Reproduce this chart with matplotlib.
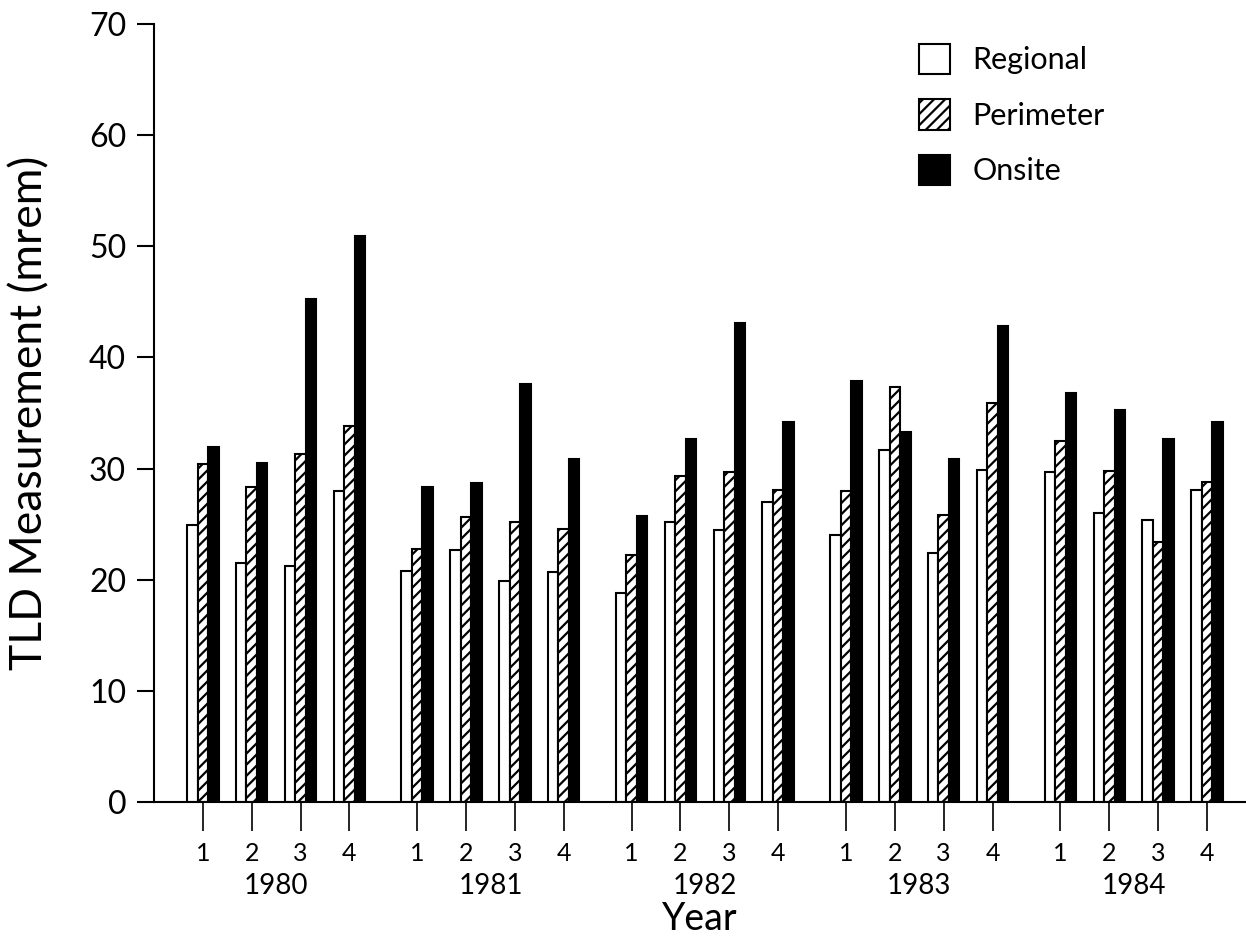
import matplotlib
matplotlib.use("Agg")
import matplotlib.pyplot as plt
from matplotlib.patches import Patch
import numpy as np

years = ["1980", "1981", "1982", "1983", "1984"]
quarters = ["1", "2", "3", "4"]

# TLD values (mrem), one entry per quarter, 1980 Q1 ... 1984 Q4
regional = [24.9, 21.5, 21.2, 28.0,
            20.8, 22.7, 19.9, 20.7,
            18.8, 25.2, 24.5, 27.0,
            24.0, 31.7, 22.4, 29.9,
            29.7, 26.0, 25.4, 28.1]
perimeter = [30.4, 28.3, 31.3, 33.8,
             22.8, 25.6, 25.2, 24.6,
             22.2, 29.3, 29.7, 28.1,
             28.0, 37.3, 25.8, 35.9,
             32.5, 29.8, 23.4, 28.8]
onsite = [31.9, 30.5, 45.3, 50.9,
          28.3, 28.7, 37.6, 30.9,
          25.7, 32.7, 43.1, 34.2,
          37.9, 33.3, 30.9, 42.8,
          36.8, 35.3, 32.7, 34.2]

plt.rcParams['font.family'] = ['Lato', 'DejaVu Sans']
plt.rcParams['hatch.linewidth'] = 1.6

fig = plt.figure(figsize=(12.46, 9.4), dpi=100)
ax = fig.add_axes([154 / 1246, 1 - 802 / 940, 1 - 154 / 1246, (802 - 24) / 940])

# quarter positions, with a wider gap between years
year_step = 4.39
pos = np.array([yi * year_step + qi for yi in range(len(years)) for qi in range(len(quarters))])
w = 0.215

ax.bar(pos - w, regional, w, color="white", edgecolor="black", linewidth=1.5)
ax.bar(pos, perimeter, w, color="white", edgecolor="black", linewidth=1.5, hatch="///")
ax.bar(pos + w, onsite, w, color="black", edgecolor="black", linewidth=1.5)

ax.set_xlim(-1, pos[-1] + 0.8)
ax.set_ylim(0, 70)
ax.set_yticks(range(0, 71, 10))
ax.tick_params(axis="y", labelsize=23, length=12, width=1.5, pad=8)
ax.set_xticks(pos)
ax.set_xticklabels(quarters * len(years))
ax.tick_params(axis="x", labelsize=18, length=21, width=1.2, pad=8)

for s in ["top", "right"]:
    ax.spines[s].set_visible(False)
for s in ["left", "bottom"]:
    ax.spines[s].set_linewidth(1.5)

# year labels under each group of quarters
for yi, yr in enumerate(years):
    ax.text(yi * year_step + 1.5, -0.108, yr, transform=ax.get_xaxis_transform(),
            ha="center", va="center", fontsize=20)

ax.text(0.5, -0.164, "Year", transform=ax.transAxes, ha="center", va="baseline", fontsize=27)
ax.text(-0.1136, 0.5, "TLD Measurement (mrem)", transform=ax.transAxes,
        rotation=90, ha="center", va="center", fontsize=32)

handles = [Patch(facecolor="white", edgecolor="black", linewidth=1.5, label="Regional"),
           Patch(facecolor="white", edgecolor="black", linewidth=1.5, hatch="///", label="Perimeter"),
           Patch(facecolor="black", edgecolor="black", linewidth=1.5, label="Onsite")]
fig.legend(handles=handles, loc="upper left", bbox_to_anchor=(919 / 1246, 1 - 44 / 940),
           frameon=False, fontsize=22, handlelength=1.02, handleheight=1.14,
           handletextpad=0.72, labelspacing=0.82, borderpad=0, borderaxespad=0)

fig.savefig("out.png", dpi=100)
